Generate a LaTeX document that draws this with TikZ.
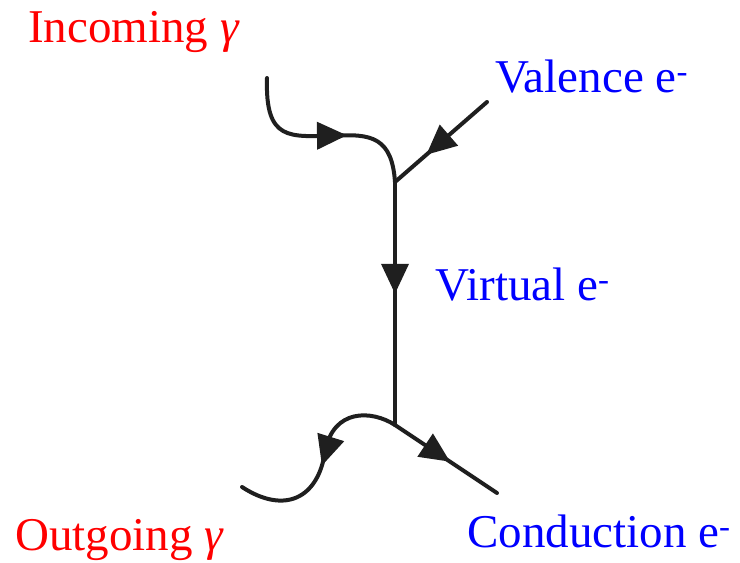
\documentclass[tikz,border=0pt]{standalone}
\usepackage{fontspec}
\setmainfont{Liberation Serif}
\usetikzlibrary{arrows.meta,decorations.markings}
\definecolor{labred}{RGB}{255,0,0}
\definecolor{labblue}{RGB}{0,0,255}
\tikzset{
  line/.style={line width=4pt,black!88,line cap=round},
  arr/.style={postaction={decorate},decoration={markings,mark=at position #1 with {\arrow{Triangle[length=30pt,width=27pt]}}}},
  redlab/.style={text=labred,font=\fontsize{47}{50}\selectfont,anchor=base west,inner sep=0pt},
  bluelab/.style={text=labblue,font=\fontsize{47}{50}\selectfont,anchor=base west,inner sep=0pt},
}
\begin{document}
\begin{tikzpicture}[x=1pt,y=-1pt]
\useasboundingbox (0,0) rectangle (740,563);
% coordinates
\coordinate (g1) at (267,78);
\coordinate (a1) at (333,136);
\coordinate (vt) at (395,182);
\coordinate (ve) at (487,102);
\coordinate (vb) at (395,425);
\coordinate (a2) at (325,452);
\coordinate (g2) at (242,487);
\coordinate (ce) at (497,493);
% incoming photon
\draw[line] (g1) .. controls (265,142) and (290,136) .. (a1);
\draw[line,arr=14pt] (a1) .. controls (372,133) and (392,138) .. (vt);
% valence electron
\draw[line,arr=0.66] (ve) -- (vt);
% virtual electron
\draw[line,arr=0.46] (vt) -- (vb);
% outgoing photon
\draw[line] (vb) .. controls (372,410) and (333,408) .. (a2);
\draw[line,arr=14pt] (a2) .. controls (318,498) and (285,515) .. (g2);
% conduction electron
\draw[line,arr=0.54] (vb) -- (ce);
% labels
\node[redlab] (inc) at (28,42) {Incoming \textit{γ}};
\node[bluelab] (val) at (495,92) {Valence e\textsuperscript{-}};
\node[bluelab] (vir) at (435,300) {Virtual e\textsuperscript{-}};
\node[redlab] (out) at (15,550) {Outgoing \textit{γ}};
\node[bluelab] (con) at (467,547) {Conduction e\textsuperscript{-}};
\end{tikzpicture}
\end{document}
